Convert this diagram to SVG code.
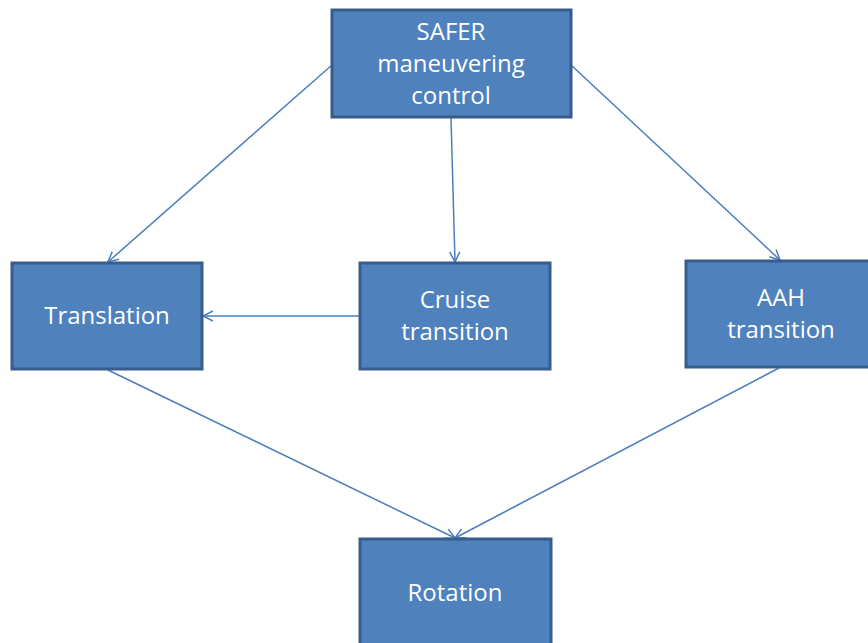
<svg xmlns="http://www.w3.org/2000/svg" width="868" height="643" viewBox="0 0 868 643">
<style>
.box{fill:#4F81BD;stroke:#385D8A;stroke-width:3}
.lbl{fill:#FFFFFF;font-family:"Open Sans","Noto Sans",sans-serif;font-size:24px;text-anchor:middle}
.edge{fill:none;stroke:#4A7EBB;stroke-width:1.5;marker-end:url(#arr)}
</style>
<defs>
<marker id="arr" viewBox="0 0 12 12" refX="11" refY="6" markerWidth="12" markerHeight="12" markerUnits="userSpaceOnUse" orient="auto">
<path d="M1,1 L11,6 L1,11" fill="none" stroke="#4A7EBB" stroke-width="1.5"/>
</marker>
</defs>
<rect width="868" height="643" fill="#FFFFFF"/>
<g id="connectors">
<line class="edge" x1="332" y1="65" x2="108" y2="262"/>
<line class="edge" x1="451" y1="118" x2="455" y2="262"/>
<line class="edge" x1="571" y1="65" x2="780" y2="260"/>
<line class="edge" x1="359" y1="316" x2="203" y2="316"/>
<line class="edge" x1="108" y1="370" x2="455" y2="538"/>
<line class="edge" x1="779" y1="368" x2="455" y2="538"/>
</g>
<g id="safer">
<rect class="box" x="332" y="10" width="239" height="107"/>
<text class="lbl" x="451" y="40">SAFER</text>
<text class="lbl" x="451" y="72">maneuvering</text>
<text class="lbl" x="451" y="104">control</text>
</g>
<g id="translation">
<rect class="box" x="12" y="263" width="190" height="106"/>
<text class="lbl" x="107" y="324">Translation</text>
</g>
<g id="cruise">
<rect class="box" x="360" y="263" width="190" height="106"/>
<text class="lbl" x="455" y="308">Cruise</text>
<text class="lbl" x="455" y="340">transition</text>
</g>
<g id="aah">
<rect class="box" x="686" y="261" width="190" height="106"/>
<text class="lbl" x="781" y="306">AAH</text>
<text class="lbl" x="781" y="338">transition</text>
</g>
<g id="rotation">
<rect class="box" x="360" y="539" width="191" height="110"/>
<text class="lbl" x="455" y="601">Rotation</text>
</g>
</svg>
